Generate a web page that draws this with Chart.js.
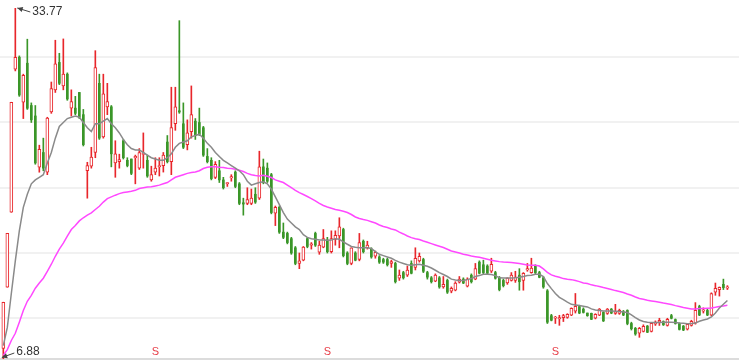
<!DOCTYPE html>
<html>
<head>
<meta charset="utf-8">
<script src="https://cdn.jsdelivr.net/npm/chart.js@4.4.1/dist/chart.umd.min.js"></script>
<style>
  html, body { margin: 0; padding: 0; background: #fff; }
  #wrap { width: 739px; height: 360px; }
</style>
</head>
<body>
<div id="wrap"><canvas id="kline"></canvas></div>
<script>
// daily candles, oldest first
const openV = [7.70,12.38,18.12,29.08,30.0,26.55,29.54,26.3,25.5,21.57,22.7,21.19,25.8,27.5,29.6,27.8,28.7,26.1,26.1,27.3,
  25.6,21.3,21.65,22.7,28.0,23.9,26.2,26.2,21.9,22.0,23.6,22.1,22.2,22.3,21.5,22.55,22.1,20.6,21.2,21.6,
  21.7,23.5,22.0,24.9,25.9,24.9,23.3,24.3,25.1,25.0,24.6,22.4,22.1,20.8,21.3,20.6,20.3,20.75,21.2,20.3,
  18.85,18.8,18.8,19.5,19.2,21.6,21.5,21.0,18.05,18.5,16.6,16.5,16.1,15.4,14.2,14.45,16.1,15.6,16.5,15.06,
  15.45,16.0,15.1,16.05,16.3,16.8,15.0,14.2,15.0,14.5,15.9,15.4,15.3,14.75,14.7,14.5,14.5,14.2,14.2,13.07,
  13.5,13.3,14.2,13.9,14.4,14.5,13.5,13.1,12.85,13.1,12.4,12.9,12.07,12.15,12.76,13.0,12.45,13.3,13.0,14.3,
  14.1,14.0,13.6,13.5,13.1,12.9,12.7,12.9,12.9,13.3,12.9,13.7,13.5,14.0,13.5,13.1,12.1,10.2,10.0,9.95,
  10.05,10.07,10.23,10.55,10.9,10.7,10.4,10.38,10.0,10.23,10.45,10.38,10.7,10.38,10.38,10.5,10.6,9.6,9.23,8.85,
  9.0,9.4,9.0,9.55,9.7,9.75,9.46,10.2,9.9,9.6,9.4,9.16,9.46,9.62,10.9,10.55,10.6,10.23,12.0,12.2,
  12.6,12.3];
const highV = [11.23,16.51,26.55,33.77,30.1,28.7,31.38,26.5,26.3,23.26,23.8,25.4,28.1,31.3,30.3,31.4,28.8,27.5,27.0,27.3,
  26.0,21.95,23.1,30.5,28.7,28.7,28.0,26.3,23.6,22.57,23.7,22.3,22.2,22.5,23.0,24.2,22.5,21.65,22.3,22.3,
  22.7,24.0,27.7,27.7,32.8,26.5,25.2,27.8,25.3,26.1,24.7,23.0,22.3,22.0,22.1,20.8,20.4,21.0,21.3,20.4,
  19.2,20.0,19.9,20.0,22.8,22.2,21.9,21.1,18.6,18.6,17.3,16.6,16.2,15.5,15.0,15.5,16.2,15.8,16.6,15.9,
  16.8,16.2,16.7,16.7,17.7,16.9,15.1,15.4,15.1,16.5,16.0,15.9,15.4,15.15,14.8,14.6,14.6,14.45,14.3,13.7,
  13.6,14.0,14.4,15.4,15.0,14.6,13.6,13.2,13.4,13.2,13.2,13.0,12.4,12.8,13.2,13.1,13.1,13.4,14.2,14.4,
  14.45,14.1,14.6,13.6,13.2,13.0,13.1,13.5,13.6,13.8,13.5,14.2,14.6,14.1,13.6,13.2,12.2,10.3,10.15,10.23,
  10.3,10.35,10.8,11.9,11.0,10.8,10.4,10.4,10.35,10.75,10.5,10.75,10.75,11.07,10.7,10.6,10.65,9.7,9.3,9.3,
  9.5,9.45,9.65,9.8,10.0,9.8,10.0,10.3,9.95,9.65,9.45,9.6,9.85,11.2,11.0,10.8,10.7,11.95,12.7,12.4,
  13.0,12.5];
const lowV = [6.88,12.38,18.12,28.95,27.0,25.3,26.0,25.0,21.8,21.19,21.3,21.0,25.7,27.3,27.9,27.5,26.7,25.5,25.6,25.3,
  23.2,19.2,21.5,22.3,23.7,23.8,25.6,21.6,20.8,21.5,22.2,21.6,21.0,20.3,21.4,21.5,20.8,20.5,21.0,20.9,
  21.2,21.9,21.0,24.4,25.7,23.0,22.9,23.8,23.7,24.0,22.4,21.9,20.6,20.7,20.4,19.9,20.1,20.5,20.0,18.7,
  17.9,18.7,18.7,18.8,19.1,20.3,20.4,18.0,17.1,16.5,16.1,15.7,14.9,14.1,13.8,14.4,15.4,15.3,15.5,14.9,
  15.4,15.0,15.0,15.6,15.4,14.7,14.1,14.1,14.4,14.4,15.0,15.3,14.6,14.6,14.2,14.2,14.0,13.9,12.7,12.9,
  13.0,13.2,13.4,13.7,14.3,13.5,13.0,12.7,12.8,12.3,12.3,11.9,11.95,12.1,12.7,12.65,12.4,12.7,12.95,13.4,
  13.4,13.4,13.5,13.0,12.1,12.4,12.6,12.85,12.75,12.15,12.15,13.6,13.45,13.4,13.1,12.3,9.6,9.8,9.6,9.46,
  9.75,10.0,10.2,10.4,10.35,10.4,10.15,9.9,9.95,10.2,9.75,10.3,10.35,10.3,10.3,10.2,9.5,9.1,8.7,8.54,
  8.95,8.9,8.95,9.45,9.45,9.45,9.4,9.95,9.55,9.1,9.05,9.1,9.4,9.55,10.2,10.4,10.2,10.2,11.76,11.7,
  12.2,12.2];
const closeV = [11.23,16.51,26.55,30.0,27.1,28.62,26.09,25.2,21.9,22.95,21.5,25.33,27.6,29.5,28.0,28.7,26.8,26.6,25.7,25.4,
  23.3,21.7,22.34,29.2,23.8,27.2,26.6,22.6,22.6,22.15,22.3,21.7,21.1,22.4,22.7,22.65,20.9,21.0,21.5,21.7,
  22.5,22.0,24.6,26.2,25.8,23.1,24.2,25.6,24.0,24.1,22.5,22.0,20.7,21.8,20.6,20.0,20.4,20.85,20.1,18.8,
  18.75,19.1,19.2,18.9,21.6,20.4,20.5,18.1,18.5,16.6,16.2,15.8,15.0,14.2,14.4,15.45,15.5,15.7,15.6,15.6,
  16.1,15.1,16.1,16.35,17.0,14.8,14.2,15.4,14.45,15.8,15.1,15.6,14.7,15.06,14.3,14.3,14.1,14.35,12.8,13.3,
  13.1,13.7,13.45,14.6,14.75,13.6,13.15,12.8,13.3,12.4,12.6,12.0,12.3,12.7,13.0,12.7,13.0,12.8,13.8,13.45,
  13.5,13.45,14.14,13.07,12.2,12.5,13.07,13.3,13.15,12.8,13.45,13.8,13.85,13.5,13.14,12.4,9.7,9.85,10.1,10.05,
  10.2,10.3,10.77,10.92,10.4,10.45,10.2,9.92,10.3,10.7,9.8,10.7,10.4,10.5,10.6,10.25,9.6,9.2,8.8,9.23,
  9.39,8.93,9.62,9.7,9.85,9.5,9.92,10.0,9.6,9.15,9.1,9.54,9.77,10.6,10.25,10.65,10.25,11.9,12.3,12.38,
  12.35,12.4];

// short average (grey) and long average (magenta)
const maShort = [7.9,9.3,11.9,14.4,16.7,18.5,19.5,20.3,20.6,20.8,21.0,21.9,22.7,23.8,24.7,25.0,25.3,25.4,25.5,25.4,
  25.0,24.6,24.3,24.9,24.9,25.1,25.3,24.9,24.6,24.2,23.7,23.3,23.0,22.9,22.9,22.7,22.5,22.3,22.2,22.1,
  22.1,22.3,22.6,23.1,23.4,23.5,23.6,23.9,24.0,24.1,23.8,23.4,23.1,22.7,22.4,22.1,21.9,21.7,21.5,21.3,
  21.0,20.5,20.2,20.3,20.4,20.45,20.3,19.9,19.3,18.7,18.1,17.6,17.3,17.0,16.8,16.4,16.2,16.1,16.05,16.0,
  16.0,15.98,16.0,16.1,16.05,15.85,15.67,15.5,15.44,15.4,15.4,15.4,15.34,15.1,14.9,14.8,14.7,14.6,14.44,14.3,
  14.2,14.1,14.06,14.1,14.14,14.06,13.98,13.85,13.68,13.5,13.35,13.2,13.0,12.94,12.9,12.9,12.96,13.04,13.2,13.27,
  13.37,13.37,13.35,13.27,13.1,13.09,13.09,13.09,13.1,13.14,13.2,13.27,13.3,13.37,13.37,13.2,12.66,12.27,11.9,11.6,
  11.43,11.23,11.07,11.02,10.97,10.92,10.87,10.72,10.64,10.59,10.56,10.56,10.56,10.54,10.51,10.48,10.44,10.26,10.05,9.87,
  9.75,9.7,9.67,9.67,9.67,9.7,9.7,9.69,9.67,9.64,9.62,9.59,9.6,9.64,9.77,9.87,9.95,10.1,10.41,10.79,
  11.07,11.36];
const maLong = [7.17,7.6,8.3,8.85,9.7,10.6,11.3,11.76,12.3,12.7,13.07,13.6,14.14,14.75,15.3,15.75,16.3,16.8,17.1,17.46,
  17.7,17.9,18.07,18.33,18.58,18.9,19.17,19.3,19.43,19.55,19.63,19.68,19.73,19.8,19.94,20.0,20.06,20.08,20.14,20.2,
  20.3,20.4,20.6,20.8,20.9,21.0,21.1,21.16,21.2,21.3,21.47,21.57,21.6,21.6,21.57,21.55,21.5,21.47,21.42,21.34,
  21.24,21.1,21.0,20.93,20.9,20.96,20.88,20.78,20.6,20.5,20.4,20.2,20.0,19.8,19.63,19.48,19.33,19.17,19.0,18.8,
  18.64,18.53,18.43,18.33,18.28,18.2,18.1,17.95,17.76,17.64,17.56,17.5,17.4,17.3,17.15,17.03,16.95,16.84,16.77,16.6,
  16.46,16.3,16.18,16.1,16.03,15.92,15.82,15.72,15.62,15.52,15.42,15.29,15.16,15.08,15.0,14.9,14.85,14.77,14.72,14.67,
  14.6,14.52,14.44,14.39,14.34,14.31,14.29,14.27,14.24,14.19,14.14,14.08,14.06,14.06,14.0,13.78,13.52,13.32,13.22,13.14,
  13.04,12.99,12.96,12.89,12.81,12.7,12.66,12.56,12.5,12.43,12.35,12.28,12.2,12.12,12.05,11.97,11.86,11.76,11.63,11.51,
  11.46,11.38,11.33,11.28,11.23,11.17,11.12,11.05,10.97,10.9,10.82,10.77,10.71,10.71,10.74,10.74,10.77,10.79,10.84,10.9,
  10.94,11.0];

const sellDays = [38, 81, 138];
const gridVals = [10, 15, 20, 25, 30];
const yMin = 6.88;
const yMax = 33.77;

const UP = '#e8262b';
const DOWN = '#3a9628';

const isUp = i => closeV[i] >= openV[i];

// rising days get a hollow red body, falling days a solid green one
const upBodies = [], downBodies = [];
openV.forEach((o, i) => {
  (isUp(i) ? upBodies : downBodies).push({ x: i, y: [o, closeV[i]] });
});
const wicks = lowV.map((l, i) => ({ x: i, y: [l, highV[i]] }));
const lineShort = maShort.map((v, i) => ({ x: i, y: v }));
const lineLong = maLong.map((v, i) => ({ x: i, y: v }));

function arrow(ctx, x1, y1, x2, y2) {
  // line from (x1,y1) with head at (x2,y2)
  const a = Math.atan2(y2 - y1, x2 - x1);
  ctx.beginPath();
  ctx.moveTo(x1, y1);
  ctx.lineTo(x2, y2);
  ctx.stroke();
  ctx.beginPath();
  ctx.moveTo(x2, y2);
  ctx.lineTo(x2 - 6 * Math.cos(a - 0.45), y2 - 6 * Math.sin(a - 0.45));
  ctx.lineTo(x2 - 6 * Math.cos(a + 0.45), y2 - 6 * Math.sin(a + 0.45));
  ctx.closePath();
  ctx.fill();
}

const marks = {
  id: 'marks',
  afterDatasetsDraw(chart) {
    const { ctx, scales: { x, y }, chartArea } = chart;
    ctx.save();
    // highest and lowest prices
    let hi = 0, lo = 0;
    highV.forEach((v, i) => { if (v > highV[hi]) hi = i; });
    lowV.forEach((v, i) => { if (v < lowV[lo]) lo = i; });
    ctx.strokeStyle = '#444';
    ctx.fillStyle = '#444';
    ctx.lineWidth = 1;
    const hx = x.getPixelForValue(hi), hy = y.getPixelForValue(highV[hi]);
    arrow(ctx, hx + 15, hy + 4, hx + 2, hy);
    const lx = x.getPixelForValue(lo), ly = y.getPixelForValue(lowV[lo]);
    arrow(ctx, lx + 11, ly - 6, lx - 1.5, ly - 1.5);
    ctx.fillStyle = '#333';
    ctx.font = '12px "Liberation Sans", Arial, sans-serif';
    ctx.textBaseline = 'middle';
    ctx.textAlign = 'left';
    ctx.fillText(highV[hi].toFixed(2), hx + 17, hy + 4);
    ctx.fillText(lowV[lo].toFixed(2), lx + 13, ly - 7);
    // sell markers
    ctx.fillStyle = '#e8404a';
    ctx.font = '11px "Liberation Sans", Arial, sans-serif';
    ctx.textAlign = 'center';
    sellDays.forEach(d => {
      ctx.fillText('S', x.getPixelForValue(d), chartArea.bottom - 7);
    });
    ctx.restore();
  }
};

new Chart(document.getElementById('kline'), {
  type: 'bar',
  data: {
    datasets: [
      { type: 'line', data: lineShort, borderColor: '#8a8a8a', borderWidth: 1.5, pointRadius: 0, tension: 0 },
      { type: 'line', data: lineLong, borderColor: '#ff48ff', borderWidth: 1.5, pointRadius: 0, tension: 0 },
      {
        data: upBodies,
        grouped: false,
        barThickness: 3,
        borderWidth: 1,
        borderSkipped: false,
        minBarLength: 1,
        backgroundColor: '#ffffff',
        borderColor: UP
      },
      {
        data: downBodies,
        grouped: false,
        barThickness: 2,
        borderWidth: 0,
        minBarLength: 1,
        backgroundColor: DOWN
      },
      {
        data: wicks,
        grouped: false,
        barThickness: 1,
        borderWidth: 0,
        backgroundColor: c => isUp(c.dataIndex) ? UP : DOWN
      }
    ]
  },
  options: {
    responsive: true,
    maintainAspectRatio: false,
    animation: false,
    devicePixelRatio: 1,
    layout: { padding: { top: 8, bottom: 1, left: 0, right: 0 } },
    plugins: { legend: { display: false }, tooltip: { enabled: false } },
    scales: {
      x: {
        type: 'linear',
        offset: false,
        min: -0.83,
        max: 183.9,
        grid: { display: false, offset: false, drawTicks: false },
        ticks: { display: false },
        border: { display: true, color: '#dcdcdc', width: 2 }
      },
      y: {
        min: yMin,
        max: yMax,
        afterBuildTicks: s => { s.ticks = gridVals.map(v => ({ value: v })); },
        ticks: { display: false },
        grid: { color: '#f1f1f1', lineWidth: 2, drawTicks: false },
        border: { display: false }
      }
    }
  },
  plugins: [marks]
});
</script>
</body>
</html>
